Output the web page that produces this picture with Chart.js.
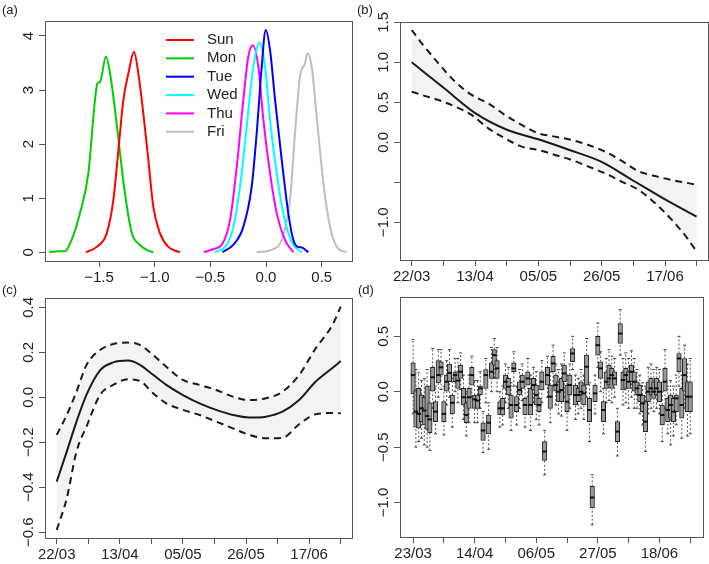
<!DOCTYPE html>
<html><head><meta charset="utf-8">
<script src="https://cdn.jsdelivr.net/npm/chart.js@4.4.1/dist/chart.umd.min.js"></script>
<style>
html,body{margin:0;padding:0;background:#fff;width:709px;height:564px;overflow:hidden}
canvas{position:absolute;left:0;top:0}
</style></head>
<body>
<canvas id="ca" width="709" height="564"></canvas>
<canvas id="cb" width="709" height="564"></canvas>
<canvas id="cc" width="709" height="564"></canvas>
<canvas id="cd" width="709" height="564"></canvas>
<script>
// ---------- Panel (a): posterior densities by weekday ----------
const dayNames = ['Sun','Mon','Tue','Wed','Thu','Fri'];
const sunX = [-1.617,-1.521,-1.431,-1.371,-1.326,-1.281,-1.236,-1.186,-1.147,-1.102,-1.057,-1.012,-0.952,-0.878,-0.773];
const sunY = [0,0.10,0.35,0.97,1.89,2.82,3.31,3.71,3.31,2.57,1.71,0.84,0.35,0.10,0];
const monX = [-1.946,-1.865,-1.805,-1.746,-1.671,-1.596,-1.536,-1.515,-1.491,-1.437,-1.401,-1.356,-1.311,-1.267,-1.206,-1.132,-1.057,-1.012];
const monY = [0,0.02,0.02,0.23,0.72,1.46,2.82,3.12,3.15,3.62,3.31,2.63,1.83,1.09,0.36,0.135,0.03,0];
const tueX = [-0.392,-0.293,-0.204,-0.129,-0.084,-0.039,-0.003,0.036,0.081,0.141,0.200,0.245,0.285,0.321,0.380];
const tueY = [0,0.14,0.47,1.21,2.20,3.43,4.11,3.74,2.82,1.71,0.72,0.23,0.10,0.09,0];
const wedX = [-0.458,-0.353,-0.293,-0.234,-0.174,-0.114,-0.060,-0.009,0.036,0.096,0.155,0.230,0.320];
const wedY = [0,0.14,0.47,1.21,2.32,3.43,3.88,3.43,2.45,1.46,0.72,0.19,0];
const thuX = [-0.557,-0.473,-0.398,-0.323,-0.263,-0.204,-0.159,-0.119,-0.069,-0.024,0.036,0.096,0.170,0.245];
const thuY = [0,0.06,0.14,0.60,1.58,2.82,3.62,3.83,3.43,2.45,1.46,0.72,0.23,0];
const friX = [-0.084,0.065,0.141,0.215,0.260,0.305,0.350,0.371,0.410,0.455,0.515,0.575,0.635,0.724];
const friY = [0,0.06,0.23,0.97,2.20,3.25,3.49,3.68,3.43,2.51,1.28,0.47,0.10,0];
const aXTicks = [-1.5,-1.0,-0.5,0.0,0.5];
const aXLabels = ['\u22121.5','\u22121.0','\u22120.5','0.0','0.5'];
const aYTicks = [0,1,2,3,4];
const aYLabels = ['0','1','2','3','4'];

// ---------- Panel (b): smooth trend with band ----------
const bBandDay = [0,3.5,9.3,15.1,20.8,26.6,32.4,38.2,44.0,49.8,55.6,61.4,67.2,72.9,78.7,84.5,90.3,96.1,99];
const bUpper = [1.404,1.238,0.988,0.758,0.592,0.487,0.342,0.217,0.113,0.071,0.029,-0.033,-0.117,-0.23,-0.36,-0.42,-0.471,-0.51,-0.533];
const bLower = [0.633,0.592,0.529,0.446,0.342,0.175,0.05,-0.054,-0.096,-0.158,-0.221,-0.304,-0.388,-0.49,-0.592,-0.758,-0.967,-1.217,-1.367];
const bFitDay = [0,11.3,22.2,33.3,44.0,54.8,65.8,76.6,87.4,99];
const bFit = [1.0,0.675,0.3625,0.154,0.0375,-0.096,-0.242,-0.471,-0.70,-0.93];
const bXTicks = [0,11,22,33,44,55,66,77,88,99];
const bXLabels = ['22/03','','13/04','','05/05','','26/05','','17/06',''];
const bYTicks = [1.5,1.0,0.5,0.0,-0.5,-1.0];
const bYLabels = ['1.5','1.0','0.5','0.0','','\u22121.0'];

// ---------- Panel (c): smooth seasonal effect with band ----------
const cDay = [0,3.5,6.9,10.4,15.1,19.7,24.9,29.0,33.6,38.2,44.0,49.8,55.6,61.4,67.2,72.9,78.7,84.5,90.3,96.1,99];
const cUpper = [-0.167,-0.0785,0.025,0.144,0.21,0.237,0.243,0.233,0.188,0.136,0.077,0.055,0.0326,0.003,-0.012,-0.0044,0.025,0.099,0.218,0.321,0.403];
const cFit = [-0.375,-0.2415,-0.108,0.012,0.12,0.155,0.163,0.144,0.10,0.055,0.01,-0.027,-0.056,-0.0785,-0.09,-0.086,-0.064,-0.012,0.07,0.13,0.161];
const cLower = [-0.59,-0.449,-0.241,-0.13,0.0104,0.055,0.08,0.0726,0.0178,-0.0267,-0.056,-0.0785,-0.108,-0.138,-0.167,-0.182,-0.18,-0.12,-0.075,-0.07,-0.071];
const cXTicks = [0,11,22,33,44,55,66,77,88,99];
const cXLabels = ['22/03','','13/04','','05/05','','26/05','','17/06',''];
const cYTicks = [0.4,0.2,0.0,-0.2,-0.4,-0.6];
const cYLabels = ['0.4','0.2','0.0','\u22120.2','\u22120.4','\u22120.6'];

// ---------- Panel (d): daily random effects (boxplots) ----------
const dDay = [0,1,2,3,4,5,6,7,8,9,10,11,12,13,14,15,16,17,18,19,20,21,22,23,24,25,26,27,28,29,30,31,32,33,34,35,36,37,38,39,40,41,42,43,44,45,46,47,48,49,50,51,52,53,54,55,56,57,58,59,60,61,62,63,64,65,66,67,68,69,70,71,72,73,74,75,76,77,78,79,80,81,82,83,84,85,86,87,88,89,90,91,92,93,94,95,96,97,98,99];
const dQ1 = [-0.02,-0.32,-0.33,-0.27,-0.30,-0.34,-0.37,0.00,-0.27,0.08,
 0.15,-0.27,0.00,0.09,-0.20,0.09,0.03,0.12,-0.12,-0.28,
 -0.15,0.06,-0.15,-0.15,-0.03,-0.44,0.03,-0.38,0.12,0.24,
 0.12,-0.21,-0.21,0.03,-0.03,-0.24,0.18,-0.18,-0.03,0.03,
 -0.21,0.06,-0.21,0.015,-0.12,-0.18,0.015,-0.62,0.06,-0.15,
 0.18,0.00,-0.09,-0.09,0.09,-0.18,-0.03,0.27,-0.12,-0.09,
 -0.03,-0.12,0.06,-0.27,-1.05,-0.09,0.33,0.12,-0.27,0.03,
 0.06,0.03,0.06,-0.45,0.435,0.015,0.03,0.03,0.09,0.00,
 -0.03,-0.09,-0.18,-0.36,-0.09,-0.03,-0.06,-0.03,-0.09,-0.30,
 0.00,-0.27,-0.24,-0.27,-0.18,0.18,-0.24,0.00,-0.18,-0.18];
const dMed = [0.15,-0.18,-0.20,-0.15,-0.17,-0.22,-0.25,0.13,-0.18,0.15,
 0.22,-0.20,0.09,0.17,-0.10,0.15,0.10,0.18,-0.05,-0.21,
 -0.05,0.15,-0.07,-0.08,0.03,-0.35,0.15,-0.28,0.18,0.33,
 0.21,-0.15,-0.15,0.09,0.045,-0.12,0.21,-0.12,0.015,0.09,
 -0.12,0.12,-0.12,0.06,-0.03,-0.12,0.09,-0.54,0.15,-0.045,
 0.255,0.06,0.00,0.015,0.165,-0.09,0.06,0.345,-0.03,-0.03,
 0.00,-0.015,0.225,-0.165,-0.955,-0.015,0.42,0.21,-0.165,0.09,
 0.12,0.15,0.12,-0.36,0.525,0.105,0.15,0.09,0.18,0.09,
 0.03,-0.03,-0.105,-0.27,0.00,0.03,0.00,0.03,0.00,-0.21,
 0.09,-0.165,-0.12,-0.18,-0.06,0.30,-0.12,0.15,-0.045,-0.045];
const dQ3 = [0.26,0.01,0.03,-0.03,-0.05,0.05,-0.10,0.22,-0.09,0.28,
 0.27,-0.09,0.15,0.25,-0.03,0.18,0.18,0.24,0.03,-0.10,
 0.03,0.22,-0.03,-0.03,0.05,-0.28,0.20,-0.21,0.26,0.38,
 0.28,-0.09,-0.06,0.15,0.12,-0.03,0.26,-0.045,0.09,0.15,
 -0.06,0.18,0.03,0.12,0.06,-0.06,0.18,-0.45,0.22,0.06,
 0.32,0.15,0.09,0.12,0.24,0.06,0.15,0.39,0.06,0.03,
 0.09,0.06,0.33,-0.06,-0.855,0.06,0.50,0.27,-0.09,0.18,
 0.24,0.21,0.18,-0.27,0.615,0.18,0.21,0.18,0.24,0.18,
 0.09,0.06,-0.03,-0.09,0.09,0.12,0.09,0.12,0.09,-0.12,
 0.21,-0.06,-0.03,-0.06,-0.03,0.345,0.03,0.30,0.09,0.09];
const dLo = [-0.20,-0.50,-0.45,-0.42,-0.48,-0.50,-0.53,-0.15,-0.38,-0.05,
 0.02,-0.39,-0.12,-0.05,-0.32,0.00,-0.10,0.02,-0.25,-0.40,
 -0.28,-0.05,-0.28,-0.28,-0.15,-0.55,-0.10,-0.52,0.00,0.12,
 0.00,-0.32,-0.30,-0.10,-0.15,-0.35,0.05,-0.30,-0.15,-0.08,
 -0.32,-0.05,-0.35,-0.10,-0.25,-0.30,-0.10,-0.75,-0.05,-0.28,
 0.05,-0.12,-0.20,-0.22,-0.05,-0.35,-0.15,0.20,-0.25,-0.20,
 -0.15,-0.25,-0.05,-0.45,-1.20,-0.20,0.22,0.00,-0.38,-0.10,
 -0.08,-0.10,-0.05,-0.58,0.33,-0.12,-0.10,-0.15,-0.05,-0.15,
 -0.15,-0.20,-0.30,-0.54,-0.20,-0.15,-0.18,-0.15,-0.20,-0.45,
 -0.15,-0.38,-0.48,-0.40,-0.30,0.05,-0.42,-0.15,-0.40,-0.38];
const dHi = [0.47,0.20,0.17,0.10,0.12,0.20,0.05,0.39,0.05,0.38,
 0.38,0.05,0.28,0.38,0.12,0.30,0.30,0.35,0.15,0.00,
 0.15,0.32,0.10,0.10,0.18,-0.18,0.30,-0.10,0.40,0.48,
 0.40,0.00,0.05,0.25,0.22,0.08,0.36,0.05,0.20,0.25,
 0.05,0.30,0.15,0.22,0.18,0.05,0.28,-0.35,0.32,0.18,
 0.42,0.25,0.20,0.25,0.35,0.15,0.25,0.50,0.15,0.12,
 0.20,0.15,0.48,0.08,-0.75,0.15,0.62,0.36,0.03,0.30,
 0.38,0.32,0.30,-0.15,0.74,0.30,0.35,0.30,0.37,0.30,
 0.20,0.15,0.08,0.05,0.22,0.25,0.20,0.22,0.20,0.00,
 0.38,0.05,0.10,0.05,0.15,0.50,0.15,0.42,0.25,0.30];
const dXTicks = [0,11,22,33,44,55,66,77,88,99];
const dXLabels = ['23/03','','14/04','','06/05','','27/05','','18/06',''];
const dYTicks = [0.5,0.0,-0.5,-1.0];
const dYLabels = ['0.5','0.0','\u22120.5','\u22121.0'];

// ---------- shared styling ----------
const FONT = "'Liberation Sans', Arial, Helvetica, sans-serif";
Chart.defaults.font.family = FONT;
Chart.defaults.font.size = 15;
Chart.defaults.color = '#222';
const AX = '#555';
const TXT = '#222';

function pts(xs, ys){ return xs.map((x,i)=>({x:x, y:ys[i]})); }

function axis(min, max, tickVals, labels, size, showLabels){
  return {
    type:'linear', min:min, max:max, offset:false,
    afterBuildTicks: s => { s.ticks = tickVals.map(v=>({value:v})); },
    afterFit: s => { if (s.isHorizontal()) s.height = size; else s.width = size; },
    grid: {display:true, drawOnChartArea:false, drawTicks:true, tickLength:6, color:AX, lineWidth:1, offset:false},
    border: {display:true, color:AX, width:1},
    ticks: {display:showLabels, autoSkip:false, maxRotation:0, minRotation:0, padding:2, color:TXT,
            font:{size:15, family:FONT}, callback:(v,i)=>labels[i]}
  };
}

const deco = {
  id:'deco',
  afterDraw(chart, args, o){
    const ctx = chart.ctx, a = chart.chartArea;
    ctx.save();
    ctx.strokeStyle = AX; ctx.lineWidth = 1;
    ctx.strokeRect(a.left+0.5, a.top+0.5, a.right-a.left, a.bottom-a.top);
    const ys = chart.scales.y;
    ctx.fillStyle = TXT;
    ctx.font = '15px ' + FONT;
    ctx.textAlign = 'center'; ctx.textBaseline = 'alphabetic';
    o.yTicks.forEach((v,i)=>{
      if (!o.yLabels[i]) return;
      const py = ys.getPixelForValue(v);
      ctx.save();
      ctx.translate(a.left - 12.5, py);
      ctx.rotate(-Math.PI/2);
      ctx.fillText(o.yLabels[i], 0, 0);
      ctx.restore();
    });
    ctx.font = '13px ' + FONT;
    ctx.textAlign = 'left';
    ctx.fillText(o.letter, o.lx, o.ly);
    if (o.legend){
      ctx.font = '15px ' + FONT;
      ctx.textBaseline = 'middle';
      chart.data.datasets.forEach((ds,i)=>{
        const yy = o.legend.y + i*o.legend.dy;
        ctx.strokeStyle = ds.borderColor; ctx.lineWidth = 2;
        ctx.beginPath(); ctx.moveTo(o.legend.x1, yy); ctx.lineTo(o.legend.x2, yy); ctx.stroke();
        ctx.fillStyle = TXT;
        ctx.fillText(ds.label, o.legend.tx, yy);
      });
    }
    ctx.restore();
  }
};

function pad(left, top, right, bottom){
  return {left:left-40, top:top, right:709-right, bottom:564-bottom-30};
}
const common = {responsive:false, animation:false, events:[], maintainAspectRatio:false};

// ---------- (a) ----------
const aColors = ['#FF0000','#00CD00','#0000FF','#00FFFF','#FF00FF','#BEBEBE'];
const aXs = [sunX,monX,tueX,wedX,thuX,friX], aYs = [sunY,monY,tueY,wedY,thuY,friY];
new Chart(document.getElementById('ca'), {
  type:'line',
  data:{datasets: dayNames.map((d,i)=>({label:d, data:pts(aXs[i], aYs[i]), borderColor:aColors[i],
        borderWidth:2, pointRadius:0, cubicInterpolationMode:'monotone', fill:false}))},
  options:Object.assign({}, common, {
    layout:{padding:pad(45,21,352,261)},
    plugins:{legend:{display:false}, tooltip:{enabled:false},
      deco:{yTicks:aYTicks, yLabels:aYLabels, letter:'(a)', lx:2, ly:13.5,
            legend:{x1:166, x2:194, tx:207, y:40, dy:18.35}}},
    scales:{
      x: axis(-1.985, 0.772, aXTicks, aXLabels, 30, true),
      y: axis(-0.161, 4.277, aYTicks, aYLabels, 40, false)
    }
  }),
  plugins:[deco]
});

// ---------- (b) & (c) ----------
function bandChart(id, bandDay, up, fitDay, fit, lo, box, xr, yr, xt, xl, yt, yl, letter, lx, ly){
  new Chart(document.getElementById(id), {
    type:'line',
    data:{datasets:[
      {label:'upper', data:pts(bandDay, up), borderColor:'#1a1a1a', borderWidth:2, borderDash:[7,5],
       pointRadius:0, cubicInterpolationMode:'monotone', fill:2, backgroundColor:'#F3F3F3'},
      {label:'fit', data:pts(fitDay, fit), borderColor:'#1a1a1a', borderWidth:2,
       pointRadius:0, cubicInterpolationMode:'monotone', fill:false},
      {label:'lower', data:pts(bandDay, lo), borderColor:'#1a1a1a', borderWidth:2, borderDash:[7,5],
       pointRadius:0, cubicInterpolationMode:'monotone', fill:false}
    ]},
    options:Object.assign({}, common, {
      layout:{padding:pad(box[0],box[1],box[2],box[3])},
      plugins:{legend:{display:false}, tooltip:{enabled:false}, filler:{drawTime:'beforeDatasetsDraw'},
        deco:{yTicks:yt, yLabels:yl, letter:letter, lx:lx, ly:ly}},
      scales:{
        x: axis(xr[0], xr[1], xt, xl, 30, true),
        y: axis(yr[0], yr[1], yt, yl, 40, false)
      }
    }),
    plugins:[deco]
  });
}
bandChart('cb', bBandDay, bUpper, bFitDay, bFit, bLower, [400,22,708,260], [-4.064,102.93], [-1.471,1.504],
          bXTicks, bXLabels, bYTicks, bYLabels, '(b)', 357, 13.5);
bandChart('cc', cDay, cUpper, cDay, cFit, cLower, [45,298,352,538], [-4.08,102.94], [-0.6253,0.4413],
          cXTicks, cXLabels, cYTicks, cYLabels, '(c)', 2, 293.5);

// ---------- (d) ----------
const whisk = [], caps = [], boxes = [], meds = [];
dDay.forEach((d,i)=>{
  whisk.push({x:d, y:dQ3[i]}, {x:d, y:dHi[i]}, {x:d, y:null}, {x:d, y:dLo[i]}, {x:d, y:dQ1[i]}, {x:d, y:null});
  caps.push({x:d, y:dHi[i]}, {x:d, y:dLo[i]});
  boxes.push({x:d, y:[dQ1[i], dQ3[i]]});
  meds.push({x:d, y:dMed[i]});
});
new Chart(document.getElementById('cd'), {
  type:'bar',
  data:{datasets:[
    {type:'line', label:'whiskers', data:whisk, borderColor:'#555', borderWidth:1, borderDash:[2,2],
     pointRadius:0, spanGaps:false, tension:0, fill:false, order:3},
    {type:'line', label:'caps', data:caps, showLine:false, pointStyle:'line', pointRadius:1.5,
     pointBorderColor:'#444', pointBorderWidth:1, borderColor:'#444', order:2},
    {type:'bar', label:'boxes', data:boxes, backgroundColor:'#9A9A9A', borderColor:'#222', borderWidth:1,
     borderSkipped:false, barThickness:4.5, grouped:false, order:1},
    {type:'line', label:'median', data:meds, showLine:false, pointStyle:'line', pointRadius:2.25,
     pointBorderColor:'#111', pointBorderWidth:2, borderColor:'#111', order:0}
  ]},
  options:Object.assign({}, common, {
    layout:{padding:pad(400,297,708,537)},
    plugins:{legend:{display:false}, tooltip:{enabled:false},
      deco:{yTicks:dYTicks, yLabels:dYLabels, letter:'(d)', lx:358, ly:293.5}},
    scales:{
      x: axis(-4.674, 103.57, dXTicks, dXLabels, 30, true),
      y: axis(-1.3114, 0.8547, dYTicks, dYLabels, 40, false)
    }
  }),
  plugins:[deco]
});
</script>
</body></html>
